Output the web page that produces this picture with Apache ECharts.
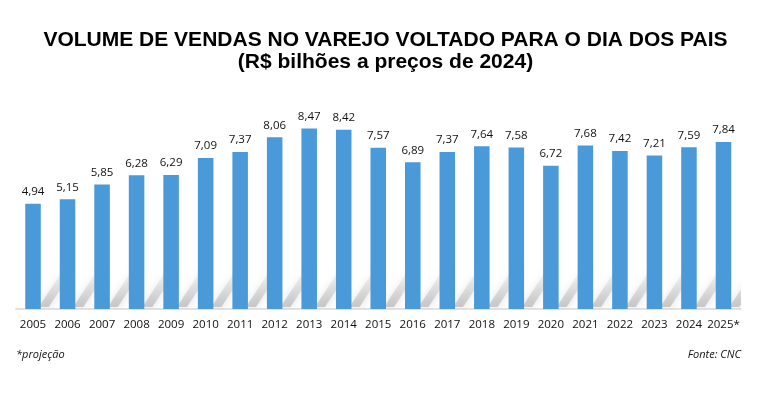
<!DOCTYPE html>
<html><head><meta charset="utf-8">
<script src="https://cdn.jsdelivr.net/npm/echarts@6/dist/echarts.min.js"></script>
<style>html,body{margin:0;padding:0;background:#fff}#c{width:771px;height:395px}</style>
</head><body><div id="c"></div>
<script>
const categories = ['2005','2006','2007','2008','2009','2010','2011','2012','2013','2014','2015','2016','2017','2018','2019','2020','2021','2022','2023','2024','2025*'];
const values = [4.94,5.15,5.85,6.28,6.29,7.09,7.37,8.06,8.47,8.42,7.57,6.89,7.37,7.64,7.58,6.72,7.68,7.42,7.21,7.59,7.84];
const titleLines = ['VOLUME DE VENDAS NO VAREJO VOLTADO PARA O DIA DOS PAIS','(R$ bilhões a preços de 2024)'];

const chart = echarts.init(document.getElementById('c'), null, {renderer:'canvas'});
chart.setOption({
  animation:false,
  title:[
    {text:titleLines[0], left:'center', top:25, textStyle:{fontFamily:'Liberation Sans, Arial', fontWeight:'bold', fontSize:21, color:'#000'}},
    {text:titleLines[1], left:'center', top:47, textStyle:{fontFamily:'Liberation Sans, Arial', fontWeight:'bold', fontSize:21, color:'#000'}},
    {text:'*projeção', left:11, top:344, textStyle:{fontFamily:'Open Sans', fontStyle:'italic', fontWeight:'normal', fontSize:11, color:'#111'}},
    {text:'Fonte: CNC', right:25, top:344, textStyle:{fontFamily:'Open Sans', fontStyle:'italic', fontWeight:'normal', fontSize:11, color:'#111'}}
  ],
  grid:{left:15.75, right:30.25, top:96, bottom:86, containLabel:false},
  xAxis:{type:'category', data:categories,
    axisLine:{lineStyle:{color:'#d9d9d9', width:1.5}}, axisTick:{show:false},
    axisLabel:{fontFamily:'Open Sans', fontSize:11.5, color:'#111', margin:10, interval:0}},
  yAxis:{type:'value', min:0, max:10, show:false, splitLine:{show:false}},
  series:[
  {
    type:'custom', z:1, silent:true, clip:true,
    data: values.map((v,i)=>[i,v]),
    renderItem:function(params, api){
      const i = api.value(0);
      const base = api.coord([i, 0]);
      const cw = api.size([1, 0])[0];
      const xr = base[0] + cw*0.225;
      const y0 = base[1] - 2;
      const gap = cw*0.55;
      return {
        type:'polygon',
        shape:{points:[[xr-2, y0],[xr+8, y0],[xr+8+gap+6, y0-38],[xr-2+gap+6, y0-38]]},
        style:{
          fill:new echarts.graphic.LinearGradient(0,1,0,0,[{offset:0,color:'rgba(165,165,165,0.55)'},{offset:1,color:'rgba(200,200,200,0.1)'}]),
          shadowBlur:9, shadowColor:'rgba(160,160,160,0.7)'
        }
      };
    }
  },
  {
    type:'bar', data:values, barWidth:'45%', z:3,
    itemStyle:{color:'#4a9ad9'},
    label:{show:true, position:'top', distance:6, fontFamily:'Open Sans', fontSize:11.5, color:'#111',
      formatter:p=>p.value.toFixed(2).replace('.',',')}
  }]
});
</script></body></html>
